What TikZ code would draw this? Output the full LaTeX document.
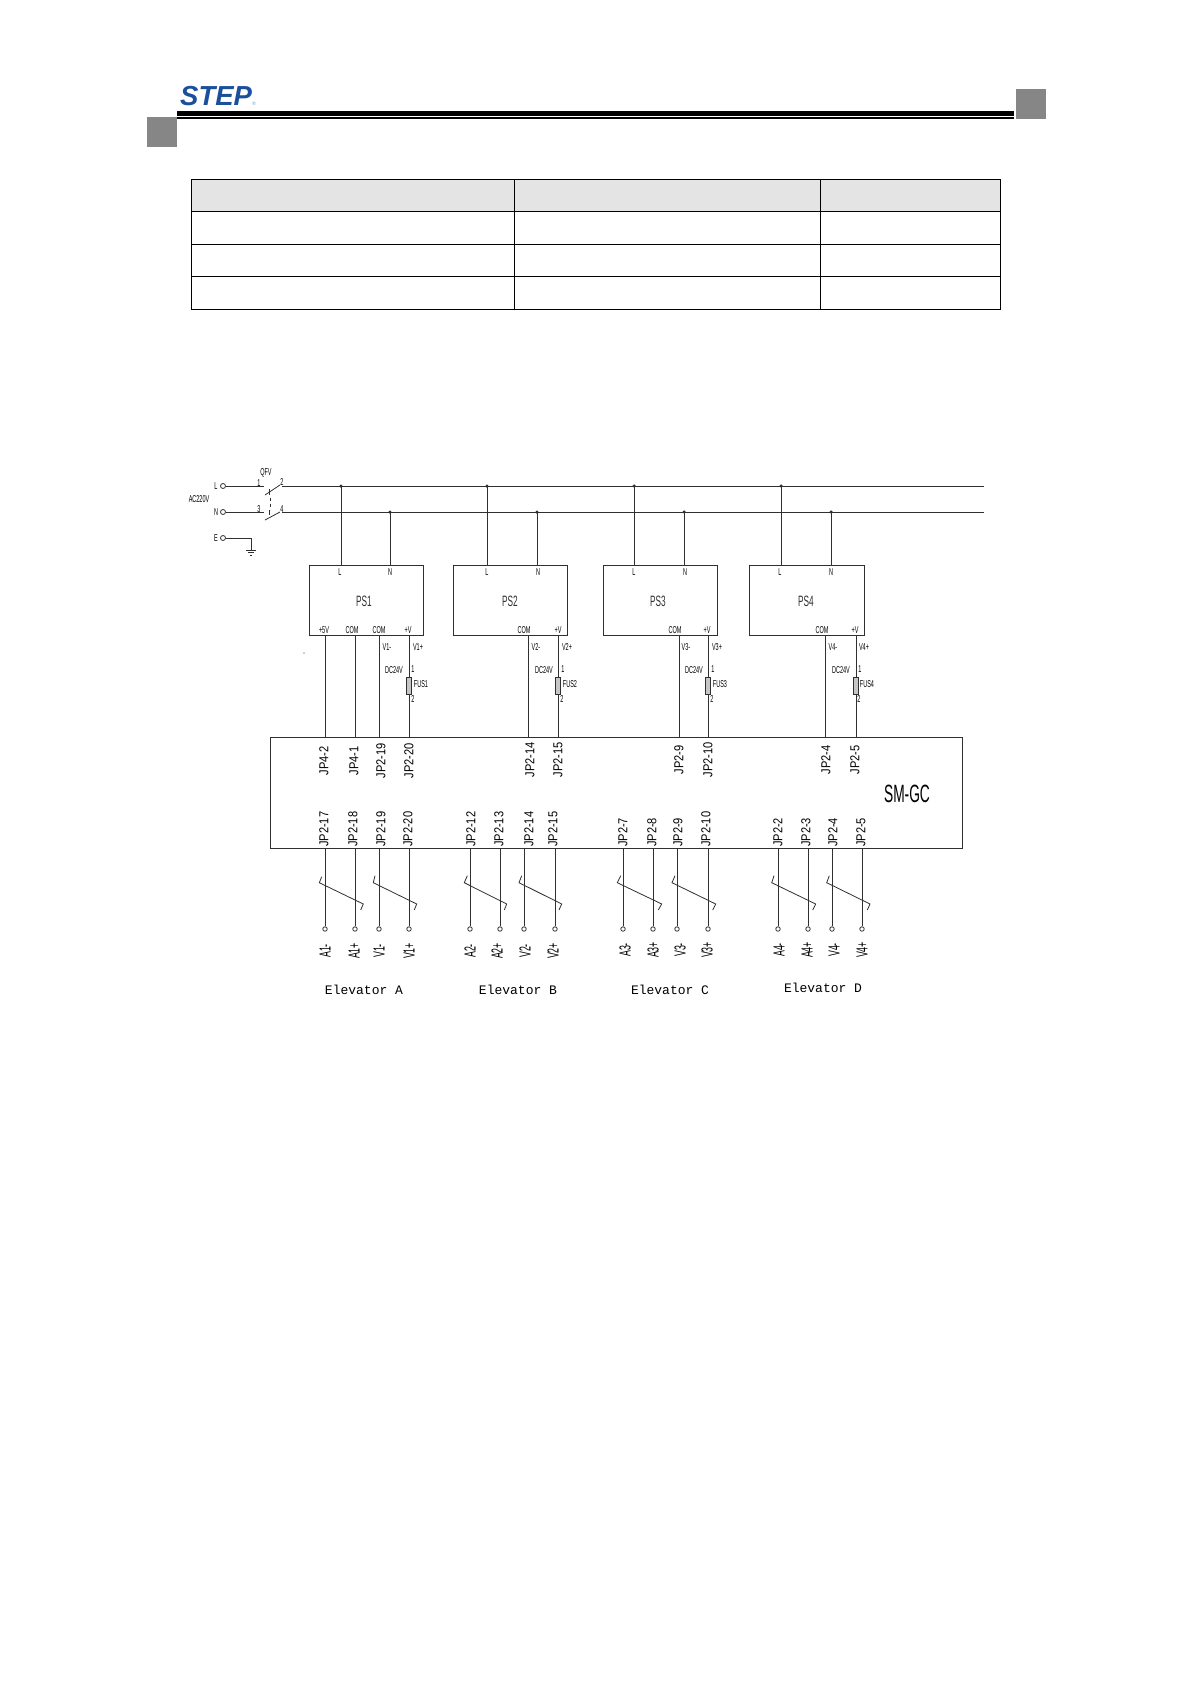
\documentclass[tikz,border=0pt]{standalone}
\usepackage{fontspec}
\usetikzlibrary{positioning}
\newfontfamily\cadfont[FakeStretch=0.85]{Liberation Sans}
\newfontfamily\cadnarrow[FakeStretch=0.55]{Liberation Sans}
\newfontfamily\logofont{Liberation Sans}
\newfontfamily\elevfont{Liberation Mono}
\definecolor{wirecol}{HTML}{303030}
\definecolor{logoblue}{HTML}{1A4F9C}
\definecolor{tabgrey}{HTML}{E4E4E4}
\definecolor{markgrey}{HTML}{868686}
\tikzset{
	wire/.style={draw, wirecol, line width=0.9pt},
	psbox/.style={draw, wirecol, line width=0.9pt, minimum width=114pt, minimum height=70pt, inner sep=0pt, font=\cadnarrow\fontsize{15}{15}\selectfont},
	gcbox/.style={draw, wirecol, line width=0.9pt, minimum width=692pt, minimum height=111pt, inner sep=0pt},
	fuse/.style={draw, wirecol, fill=gray!45, line width=0.9pt, minimum width=5pt, minimum height=17pt, inner sep=0pt},
	port/.style={draw, wirecol, fill=white, circle, line width=0.8pt, inner sep=0pt, minimum size=5pt},
	joint/.style={fill=wirecol, circle, inner sep=0pt, minimum size=3.5pt},
	small/.style={inner sep=0pt, font=\cadnarrow\fontsize{10}{10}\selectfont},
	jp/.style={inner sep=0pt, rotate=90, font=\cadfont\fontsize{13}{13}\selectfont},
	jplow/.style={jp, anchor=west},
	sig/.style={inner sep=0pt, rotate=90, font=\cadnarrow\fontsize{16}{16}\selectfont},
	elev/.style={inner sep=0pt, font=\elevfont\fontsize{13}{13}\selectfont},
	tabline/.style={draw, black, line width=0.8pt},
	strokemark/.style={wirecol, line width=0.8pt},
}
\begin{document}
\begin{tikzpicture}[x=1pt, y=-1pt]
	\useasboundingbox[fill=white] (0, 0) rectangle (1190, 1684);

	% page head
	\fill[black] (177, 111) rectangle (1014, 116);
	\fill[black] (177, 117) rectangle (1014, 119);
	\fill[markgrey] (147, 117) rectangle (177, 147);
	\fill[markgrey] (1016, 89) rectangle (1046, 119);
	\node[inner sep=0pt, anchor=west, text=logoblue, font=\logofont\fontsize{27.5}{27.5}\selectfont\bfseries\itshape] (logo) at (180, 96) {STEP};
	\node[inner sep=0pt, text=logoblue!60, font=\logofont\fontsize{5}{5}\selectfont] (reg) at (254, 104) {®};

	% empty table
	\fill[tabgrey] (191, 179) rectangle (1000, 211);
	\draw[tabline] (191, 179) rectangle (1000, 309);
	\draw[tabline] (191, 211) -- (1000, 211);
	\draw[tabline] (191, 244) -- (1000, 244);
	\draw[tabline] (191, 276) -- (1000, 276);
	\draw[tabline] (514, 179) -- (514, 309);
	\draw[tabline] (820, 179) -- (820, 309);

	% mains side
	\node[port] (tl) at (223, 486) {};
	\node[port] (tn) at (223, 512) {};
	\node[port] (te) at (223, 538) {};
	\coordinate (sw1) at (264, 486);
	\coordinate (sw2) at (264, 512);
	\coordinate (bus1) at (282, 486);
	\coordinate (bus2) at (282, 512);
	\coordinate (end1) at (984, 486);
	\coordinate (end2) at (984, 512);
	\coordinate (gnd) at (251, 550);

	\path[wire] (tl) -- (sw1);
	\path[wire] (tn) -- (sw2);
	\path[wire] (te) -| (gnd);
	\path[wire] (bus1) -- (end1);
	\path[wire] (bus2) -- (end2);
	\draw[strokemark] (265, 495) -- (280, 485);
	\draw[strokemark] (265, 520) -- (280, 512);
	\draw[strokemark] (269, 489) -- (269, 495);
	\draw[strokemark] (269, 510) -- (269, 515);
	\draw[strokemark, dashed] (270, 498) -- (270, 510);
	\draw[strokemark] (246, 550) -- (256, 550);
	\draw[strokemark] (248, 552.5) -- (254, 552.5);
	\draw[strokemark] (250, 555) -- (252, 555);

	\node[small] (t1) at (216, 486) {L};
	\node[small] (t2) at (216, 512) {N};
	\node[small] (t3) at (216, 538) {E};
	\node[small] (ac) at (199, 499) {AC220V};
	\node[small] (qf) at (266, 473) {QFV};
	\node[small] (c1) at (259, 483) {1};
	\node[small] (c2) at (282, 482) {2};
	\node[small] (c3) at (259, 509) {3};
	\node[small] (c4) at (282, 509) {4};
	\fill[wirecol] (304, 653) circle (0.6pt);

	% power supplies
	\node[psbox] (ps1) at (366, 600) {};
	\node[psbox] (ps2) at (510, 600) {};
	\node[psbox] (ps3) at (660, 600) {};
	\node[psbox, minimum width=115pt] (ps4) at (806.5, 600) {};
	\node[psbox, draw=none, minimum width=0pt, minimum height=0pt] (name1) at (364, 601) {PS1};
	\node[psbox, draw=none, minimum width=0pt, minimum height=0pt] (name2) at (510, 601) {PS2};
	\node[psbox, draw=none, minimum width=0pt, minimum height=0pt] (name3) at (658, 601) {PS3};
	\node[psbox, draw=none, minimum width=0pt, minimum height=0pt] (name4) at (806, 601) {PS4};

	\node[joint] (j1) at (341, 486) {};
	\node[joint] (j2) at (390, 512) {};
	\node[joint] (j3) at (487, 486) {};
	\node[joint] (j4) at (537, 512) {};
	\node[joint] (j5) at (634, 486) {};
	\node[joint] (j6) at (684, 512) {};
	\node[joint] (j7) at (781, 486) {};
	\node[joint] (j8) at (831, 512) {};

	\path[wire] (j1.center) -- (j1 |- ps1.north);
	\path[wire] (j2.center) -- (j2 |- ps1.north);
	\path[wire] (j3.center) -- (j3 |- ps2.north);
	\path[wire] (j4.center) -- (j4 |- ps2.north);
	\path[wire] (j5.center) -- (j5 |- ps3.north);
	\path[wire] (j6.center) -- (j6 |- ps3.north);
	\path[wire] (j7.center) -- (j7 |- ps4.north);
	\path[wire] (j8.center) -- (j8 |- ps4.north);

	\node[small] (l1) at (340, 572) {L};
	\node[small] (n1) at (390, 572) {N};
	\node[small] (l2) at (487, 572) {L};
	\node[small] (n2) at (538, 572) {N};
	\node[small] (l3) at (634, 572) {L};
	\node[small] (n3) at (685, 572) {N};
	\node[small] (l4) at (780, 572) {L};
	\node[small] (n4) at (831, 572) {N};

	\node[small] (p1) at (324, 630) {+5V};
	\node[small] (p2) at (352, 630) {COM};
	\node[small] (p3) at (379, 630) {COM};
	\node[small] (p4) at (408, 630) {+V};
	\node[small] (p5) at (524, 630) {COM};
	\node[small] (p6) at (558, 630) {+V};
	\node[small] (p7) at (675, 630) {COM};
	\node[small] (p8) at (707, 630) {+V};
	\node[small] (p9) at (822, 630) {COM};
	\node[small] (p10) at (855, 630) {+V};

	% controller
	\node[gcbox] (gc) at (616, 792.5) {};
	\node[inner sep=0pt, font=\cadnarrow\fontsize{25}{25}\selectfont] (gcname) at (907, 794) {SM-GC};

	\path[wire] (325, 635) coordinate (a1) -- (a1 |- gc.north);
	\path[wire] (355, 635) coordinate (a2) -- (a2 |- gc.north);
	\path[wire] (379, 635) coordinate (a3) -- (a3 |- gc.north);
	\path[wire] (409, 635) coordinate (a4) -- (a4 |- gc.north);
	\path[wire] (528, 635) coordinate (a5) -- (a5 |- gc.north);
	\path[wire] (558, 635) coordinate (a6) -- (a6 |- gc.north);
	\path[wire] (679, 635) coordinate (a7) -- (a7 |- gc.north);
	\path[wire] (708, 635) coordinate (a8) -- (a8 |- gc.north);
	\path[wire] (825, 635) coordinate (a9) -- (a9 |- gc.north);
	\path[wire] (856, 635) coordinate (a10) -- (a10 |- gc.north);

	\node[fuse] (f1) at (409, 685.5) {};
	\node[fuse] (f2) at (558, 685.5) {};
	\node[fuse] (f3) at (708, 685.5) {};
	\node[fuse] (f4) at (856, 685.5) {};

	\node[small] (v1) at (387, 647) {V1-};
	\node[small] (v2) at (418, 647) {V1+};
	\node[small] (v3) at (536, 647) {V2-};
	\node[small] (v4) at (567, 647) {V2+};
	\node[small] (v5) at (686, 647) {V3-};
	\node[small] (v6) at (717, 647) {V3+};
	\node[small] (v7) at (833, 647) {V4-};
	\node[small] (v8) at (864, 647) {V4+};

	\node[small] (d1) at (394, 670) {DC24V};
	\node[small] (d2) at (544, 670) {DC24V};
	\node[small] (d3) at (694, 670) {DC24V};
	\node[small] (d4) at (841, 670) {DC24V};
	\node[small] (o1) at (413, 669) {1};
	\node[small] (o2) at (563, 669) {1};
	\node[small] (o3) at (713, 669) {1};
	\node[small] (o4) at (860, 669) {1};
	\node[small] (u1) at (421, 684) {FUS1};
	\node[small] (u2) at (570, 684) {FUS2};
	\node[small] (u3) at (720, 684) {FUS3};
	\node[small] (u4) at (867, 684) {FUS4};
	\node[small] (w1) at (413, 699) {2};
	\node[small] (w2) at (562, 699) {2};
	\node[small] (w3) at (712, 699) {2};
	\node[small] (w4) at (859, 699) {2};

	\node[jp] (top1) at (324, 761) {JP4-2};
	\node[jp] (top2) at (354, 761) {JP4-1};
	\node[jp] (top3) at (381, 761) {JP2-19};
	\node[jp] (top4) at (409, 761) {JP2-20};
	\node[jp] (top5) at (530, 760) {JP2-14};
	\node[jp] (top6) at (558, 760) {JP2-15};
	\node[jp] (top7) at (679, 760) {JP2-9};
	\node[jp] (top8) at (708, 760) {JP2-10};
	\node[jp] (top9) at (826, 760) {JP2-4};
	\node[jp] (top10) at (855, 760) {JP2-5};

	\node[jplow] (low1) at (324, 847) {JP2-17};
	\node[jplow] (low2) at (353, 847) {JP2-18};
	\node[jplow] (low3) at (381, 847) {JP2-19};
	\node[jplow] (low4) at (408, 847) {JP2-20};
	\node[jplow] (low5) at (471, 847) {JP2-12};
	\node[jplow] (low6) at (499, 847) {JP2-13};
	\node[jplow] (low7) at (529, 847) {JP2-14};
	\node[jplow] (low8) at (553, 847) {JP2-15};
	\node[jplow] (low9) at (623, 847) {JP2-7};
	\node[jplow] (low10) at (652, 847) {JP2-8};
	\node[jplow] (low11) at (678, 847) {JP2-9};
	\node[jplow] (low12) at (706, 847) {JP2-10};
	\node[jplow] (low13) at (778, 847) {JP2-2};
	\node[jplow] (low14) at (806, 847) {JP2-3};
	\node[jplow] (low15) at (833, 847) {JP2-4};
	\node[jplow] (low16) at (861, 847) {JP2-5};

	% car cables
	\node[port, minimum size=4.5pt] (e1) at (325, 929) {};
	\node[port, minimum size=4.5pt] (e2) at (355, 929) {};
	\node[port, minimum size=4.5pt] (e3) at (379, 929) {};
	\node[port, minimum size=4.5pt] (e4) at (409, 929) {};
	\node[port, minimum size=4.5pt] (e5) at (470, 929) {};
	\node[port, minimum size=4.5pt] (e6) at (500, 929) {};
	\node[port, minimum size=4.5pt] (e7) at (524, 929) {};
	\node[port, minimum size=4.5pt] (e8) at (555, 929) {};
	\node[port, minimum size=4.5pt] (e9) at (623, 929) {};
	\node[port, minimum size=4.5pt] (e10) at (653, 929) {};
	\node[port, minimum size=4.5pt] (e11) at (677, 929) {};
	\node[port, minimum size=4.5pt] (e12) at (708, 929) {};
	\node[port, minimum size=4.5pt] (e13) at (778, 929) {};
	\node[port, minimum size=4.5pt] (e14) at (808, 929) {};
	\node[port, minimum size=4.5pt] (e15) at (832, 929) {};
	\node[port, minimum size=4.5pt] (e16) at (862, 929) {};

	\path[wire] (e1) -- (e1 |- gc.south);
	\path[wire] (e2) -- (e2 |- gc.south);
	\path[wire] (e3) -- (e3 |- gc.south);
	\path[wire] (e4) -- (e4 |- gc.south);
	\path[wire] (e5) -- (e5 |- gc.south);
	\path[wire] (e6) -- (e6 |- gc.south);
	\path[wire] (e7) -- (e7 |- gc.south);
	\path[wire] (e8) -- (e8 |- gc.south);
	\path[wire] (e9) -- (e9 |- gc.south);
	\path[wire] (e10) -- (e10 |- gc.south);
	\path[wire] (e11) -- (e11 |- gc.south);
	\path[wire] (e12) -- (e12 |- gc.south);
	\path[wire] (e13) -- (e13 |- gc.south);
	\path[wire] (e14) -- (e14 |- gc.south);
	\path[wire] (e15) -- (e15 |- gc.south);
	\path[wire] (e16) -- (e16 |- gc.south);

	\draw[strokemark] (321.7, 876.7) -- (319.3, 882.7) -- (363.3, 904) -- (360.7, 910);
	\draw[strokemark] (375, 875.7) -- (373.3, 882.7) -- (416.7, 904) -- (414.3, 910);
	\draw[strokemark] (467.3, 875.7) -- (464.3, 882.7) -- (506.7, 904) -- (504.3, 910);
	\draw[strokemark] (521.7, 875.7) -- (519, 882.7) -- (561.7, 904) -- (559, 910);
	\draw[strokemark] (620.7, 875.7) -- (617.3, 882.7) -- (661.7, 904) -- (658.3, 910);
	\draw[strokemark] (675, 875.7) -- (672, 882.7) -- (715.7, 904) -- (712.7, 910);
	\draw[strokemark] (774, 875.7) -- (771.7, 882.7) -- (815.7, 904) -- (812.7, 910);
	\draw[strokemark] (829.3, 875.7) -- (826.7, 882.7) -- (870, 904) -- (867.3, 910);

	\node[sig] (s1) at (325, 951) {A1-};
	\node[sig] (s2) at (354, 951) {A1+};
	\node[sig] (s3) at (379, 951) {V1-};
	\node[sig] (s4) at (409, 951) {V1+};
	\node[sig] (s5) at (470, 951) {A2-};
	\node[sig] (s6) at (497, 951) {A2+};
	\node[sig] (s7) at (525, 951) {V2-};
	\node[sig] (s8) at (553, 951) {V2+};
	\node[sig] (s9) at (625, 950) {A3-};
	\node[sig] (s10) at (653, 950) {A3+};
	\node[sig] (s11) at (680, 950) {V3-};
	\node[sig] (s12) at (707, 950) {V3+};
	\node[sig] (s13) at (779, 950) {A4-};
	\node[sig] (s14) at (807, 950) {A4+};
	\node[sig] (s15) at (834, 950) {V4-};
	\node[sig] (s16) at (862, 950) {V4+};

	\node[elev] (ea) at (364, 990) {Elevator A};
	\node[elev] (eb) at (518, 990) {Elevator B};
	\node[elev] (ec) at (670, 990) {Elevator C};
	\node[elev] (ed) at (823, 988) {Elevator D};
\end{tikzpicture}
\end{document}
